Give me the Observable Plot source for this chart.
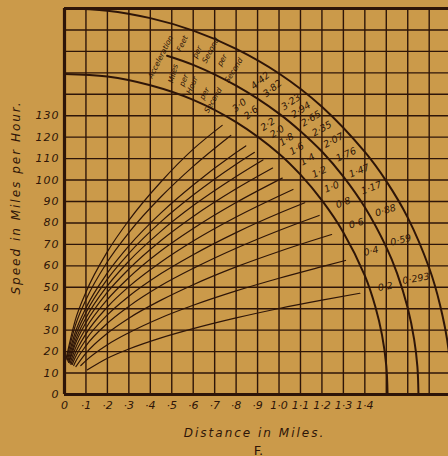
<!DOCTYPE html>
<html><head><meta charset="utf-8">
<script src="https://cdn.jsdelivr.net/npm/d3@7"></script>
<script src="https://cdn.jsdelivr.net/npm/@observablehq/plot@0.6"></script>
<style>
html,body{margin:0;padding:0;background:#cb9a4a;}
#chart{width:448px;height:456px;overflow:hidden;}
g[aria-label="y-axis tick label"] text{letter-spacing:1px;}
</style></head><body><div id="chart"></div>
<script>
// ---------- data ----------
const accelMph = ["3·0","2·6","2·2","2·0","1·8","1·6","1·4","1·2","1·0","0·8","0·6","0·4","0·2"];
const accelFt  = ["4·42","3·82","3·23","2·94","2·65","2·35","2·07","1·76","1·47","1·17","0·88","0·59","0·293"];

const curveDistances = [
  [0.008,0.05,0.1,0.2,0.3,0.45,0.6,0.735],
  [0.010,0.05,0.1,0.2,0.3,0.45,0.6,0.775],
  [0.013,0.05,0.1,0.2,0.3,0.45,0.6,0.8,0.845],
  [0.016,0.05,0.1,0.2,0.3,0.45,0.6,0.8,0.885],
  [0.019,0.05,0.1,0.2,0.3,0.45,0.6,0.8,0.925],
  [0.022,0.05,0.1,0.2,0.3,0.45,0.6,0.8,0.97],
  [0.026,0.05,0.1,0.2,0.3,0.45,0.6,0.8,1.015],
  [0.030,0.05,0.1,0.2,0.3,0.45,0.6,0.8,1.0,1.065],
  [0.036,0.05,0.1,0.2,0.3,0.45,0.6,0.8,1.0,1.12],
  [0.043,0.05,0.1,0.2,0.3,0.45,0.6,0.8,1.0,1.187],
  [0.053,0.1,0.2,0.3,0.45,0.6,0.8,1.0,1.2,1.245],
  [0.076,0.1,0.2,0.3,0.45,0.6,0.8,1.0,1.2,1.31],
  [0.107,0.2,0.3,0.45,0.6,0.8,1.0,1.2,1.377]
];
const curveSpeeds = [
  [17,34.6,47.7,66.6,81.2,99.2,114.4,125.5],
  [16.5,32.0,44.2,61.9,75.5,92.2,106.4,120.8],
  [16,29.0,40.4,56.7,69.3,84.7,97.7,112.8,115.9],
  [15.5,27.0,38.1,53.8,65.8,80.6,93.0,107.4,112.9],
  [15,25.0,35.7,50.7,62.2,76.2,88.1,101.7,109.4],
  [15,23.4,33.5,47.7,58.5,71.8,83.0,95.9,105.6],
  [14.5,21.3,30.9,44.3,54.5,67.0,77.4,89.5,100.9],
  [14,19.2,28.3,40.8,50.3,61.8,71.6,82.8,92.6,95.6],
  [14,17.2,25.6,37.1,45.8,56.4,65.2,75.5,84.5,89.4],
  [13.5,15.0,22.7,33.2,41.1,50.8,58.8,68.2,76.5,83.5],
  [13,19.3,28.6,35.6,44.0,51.2,59.5,66.7,73.2,74.6],
  [13.5,15.8,23.2,28.8,35.8,41.6,48.3,54.2,59.6,62.5],
  [11.5,16.9,21.2,26.4,30.7,35.7,40.1,44.0,47.2]
];

const innerArcDist  = [0,0.2,0.4,0.6,0.8,1.0,1.1,1.2,1.3,1.4,1.45,1.48,1.5,1.506];
const innerArcSpeed = [149.5,148.3,144.2,137.4,127,112.3,102.5,90.5,75.6,55.4,40.6,27.8,13.5,0];
const middleArcDist  = [0.478,0.6,0.8,1.0,1.1,1.2,1.3,1.4,1.5,1.55,1.6,1.63,1.645,1.65];
const middleArcSpeed = [158,153.7,144,131,122.8,113.3,101.6,87.3,68.7,56.6,40.3,25.6,13,0];
const outerArcDist  = [0,0.2,0.4,0.6,0.8,1.0,1.2,1.4,1.5,1.6,1.7,1.75,1.79,1.8];
const outerArcSpeed = [180,179,175.5,169.7,161.2,149.7,134.2,113.1,99.5,82.5,59,42,21,0];

const gridDist  = [0,0.1,0.2,0.3,0.4,0.5,0.6,0.7,0.8,0.9,1.0,1.1,1.2,1.3,1.4,1.5,1.6,1.7];
const gridSpeed = [0,10,20,30,40,50,60,70,80,90,100,110,120,130,140,150,160,170,180];
const distTicks = [0,0.1,0.2,0.3,0.4,0.5,0.6,0.7,0.8,0.9,1.0,1.1,1.2,1.3,1.4];
const distTickLabels = ["0","·1","·2","·3","·4","·5","·6","·7","·8","·9","1·0","1·1","1·2","1·3","1·4"];
const speedTicks = [0,10,20,30,40,50,60,70,80,90,100,110,120,130];

const headerWords = ["Acceleration","Feet","per","Second","per","Second","Miles","per","Hour","per","Second"];
const headerDist  = [0.448,0.549,0.619,0.681,0.735,0.789,0.507,0.556,0.595,0.653,0.693];
const headerSpeed = [157.4,163.7,159.7,160.5,155.9,151.2,149.6,146.5,144.2,140.3,137.2];
const headerAngle = [-63,-65,-65,-62,-60,-58,-75,-68,-66,-62,-60];

// ---------- layout ----------
const W = 448, H = 456, ML = 64, MR = 0, MT = 8, MB = 62;
const xMax = 1.79, yMax = 180;
const ink = "#2e1508";
const sx = (W - ML - MR) / xMax, sy = (H - MT - MB) / yMax;
const mphBand = [1.578, 157.5], ftBand = [1.725, 172.5];

const curveRows = [];
curveDistances.forEach((ds, i) => ds.forEach((d, j) => curveRows.push({accel: accelMph[i], d, v: curveSpeeds[i][j]})));

const arcRows = [];
[[innerArcDist, innerArcSpeed, "inner"], [middleArcDist, middleArcSpeed, "middle"], [outerArcDist, outerArcSpeed, "outer"]]
  .forEach(([ds, vs, name]) => ds.forEach((d, j) => arcRows.push({arc: name, d, v: vs[j]})));

function bandPoint(ex, ey, th, band) {
  const A = band[0] * sx, B = band[1] * sy, c = Math.cos(th), s = Math.sin(th);
  const qa = c*c/(A*A) + s*s/(B*B);
  const qb = 2*(ex*c/(A*A) + ey*s/(B*B));
  const qc = ex*ex/(A*A) + ey*ey/(B*B) - 1;
  const t = (-qb + Math.sqrt(qb*qb - 4*qa*qc)) / (2*qa);
  return [(ex + t*c)/sx, (ey + t*s)/sy];
}
const labelRows = [];
curveDistances.forEach((ds, i) => {
  const vs = curveSpeeds[i], n = ds.length;
  const ex = ds[n-1]*sx, ey = vs[n-1]*sy;
  const tan = Math.atan2((vs[n-1]-vs[n-2])*sy, (ds[n-1]-ds[n-2])*sx);
  const rad = Math.atan2(ey, ex);
  const th = (tan + rad) / 2;
  const p1 = bandPoint(ex, ey, th, mphBand), p2 = bandPoint(ex, ey, th, ftBand);
  const rot = -tan * 180 / Math.PI;
  labelRows.push({d: p1[0], v: p1[1], text: accelMph[i], rot});
  labelRows.push({d: p2[0], v: p2[1], text: accelFt[i], rot});
});
const headerRows = headerWords.map((w, i) => ({text: w, d: headerDist[i], v: headerSpeed[i], rot: headerAngle[i]}));

const chart = Plot.plot({
  width: W, height: H, marginLeft: ML, marginRight: MR, marginTop: MT, marginBottom: MB,
  x: {domain: [0, xMax], axis: null},
  y: {domain: [0, yMax], axis: null},
  style: {background: "transparent", color: ink, fontFamily: "DejaVu Sans", fontStyle: "italic", overflow: "hidden"},
  marks: [
    Plot.ruleX(gridDist, {stroke: ink, strokeWidth: 1.4}),
    Plot.ruleY(gridSpeed, {stroke: ink, strokeWidth: 1.4}),
    Plot.ruleX([0], {stroke: ink, strokeWidth: 3.2}),
    Plot.ruleY([0, 180], {stroke: ink, strokeWidth: 3.2}),
    Plot.line(arcRows, {x: "d", y: "v", z: "arc", stroke: ink, strokeWidth: 2, curve: "catmull-rom", clip: true}),
    Plot.line(curveRows, {x: "d", y: "v", z: "accel", stroke: ink, strokeWidth: 1.2, curve: "monotone-x", clip: true}),
    Plot.text(labelRows, {x: "d", y: "v", text: "text", rotate: "rot", fill: ink, fontSize: 9.5, textAnchor: "middle", lineAnchor: "middle"}),
    Plot.text(headerRows, {x: "d", y: "v", text: "text", rotate: "rot", fill: ink, fontSize: 7.5, textAnchor: "middle", lineAnchor: "middle"}),
    Plot.axisY(speedTicks, {tickSize: 0, tickPadding: 5, fontSize: 11, label: null}),
    Plot.axisX(distTicks, {tickSize: 0, tickPadding: 7, fontSize: 11, label: null,
      tickFormat: d => distTickLabels[distTicks.indexOf(d)]}),
    Plot.text(["Speed in Miles per Hour."], {frameAnchor: "left", dx: -48, dy: -4, rotate: -90, fontSize: 12, fill: ink, textAnchor: "middle"}),
    Plot.text(["Distance in Miles."], {frameAnchor: "bottom", dx: -2, dy: 42, fontSize: 12, fill: ink, textAnchor: "middle"}),
    Plot.text(["F."], {frameAnchor: "bottom", dx: 2, dy: 60, fontSize: 13, fill: ink, textAnchor: "middle", lineAnchor: "bottom", fontStyle: "normal"})
  ]
});
document.getElementById("chart").append(chart);
d3.select(chart).selectAll("text").filter(function () {
  const t = this.textContent;
  return t === "Distance in Miles." || t === "Speed in Miles per Hour.";
}).attr("letter-spacing", 2);
</script>
</body></html>
